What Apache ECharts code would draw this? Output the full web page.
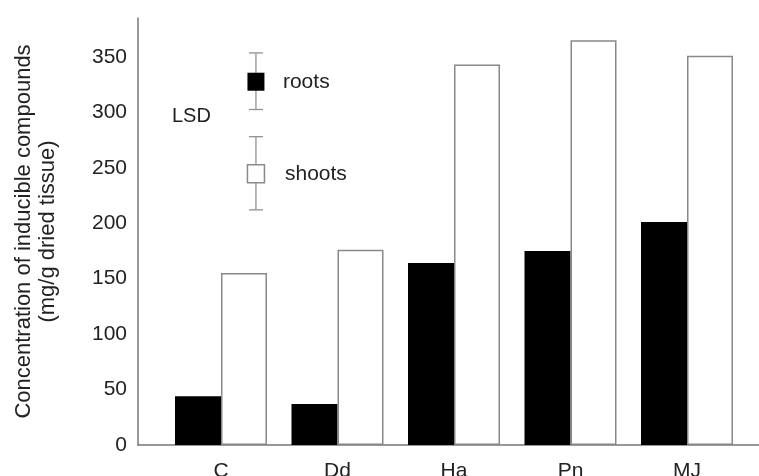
<!DOCTYPE html>
<html>
<head>
<meta charset="utf-8">
<script src="https://cdn.jsdelivr.net/npm/echarts@6/dist/echarts.min.js"></script>
<style>
html,body{margin:0;padding:0;background:#fff;}
#chart{width:759px;height:476px;}
</style>
</head>
<body>
<div id="chart"></div>
<script>
// ---- data ----
const categories = ['C', 'Dd', 'Ha', 'Pn', 'MJ'];
const rootsValues = [44, 37, 164, 175, 201];
const shootsValues = [155, 176, 343, 365, 351];
const yTickValues = [0, 50, 100, 150, 200, 250, 300, 350];
const lsdNames = ['roots', 'shoots'];
const lsdValues = [51, 66];

// ---- layout (not data) ----
const FONT = 'Liberation Sans, Arial, sans-serif';
const lsdX = 1.30;
const lsdCenters = [328, 245];

const chart = echarts.init(document.getElementById('chart'), null, {renderer: 'canvas'});

const option = {
  backgroundColor: '#ffffff',
  animation: false,
  grid: {left: 138, right: 0, top: 18, bottom: 31, containLabel: false, outerBoundsMode: 'none'},
  xAxis: {
    type: 'value',
    min: 0.2876,
    max: 5.618,
    splitLine: {show: false},
    axisTick: {show: false},
    axisLine: {show: true, lineStyle: {color: '#777', width: 1.5}},
    axisLabel: {
      customValues: categories.map((c, i) => i + 1),
      formatter: v => categories[Math.round(v) - 1] || '',
      fontFamily: FONT, fontSize: 21, color: '#222', margin: 16
    }
  },
  yAxis: {
    type: 'value',
    min: 0, max: 385, interval: 50,
    splitLine: {show: false},
    axisTick: {show: false},
    axisLine: {show: true, lineStyle: {color: '#777', width: 1.5}},
    axisLabel: {
      customValues: yTickValues,
      fontFamily: FONT, fontSize: 21, color: '#222', margin: 11
    },
    name: 'Concentration of inducible compounds\n(mg/g dried tissue)',
    nameLocation: 'middle',
    nameRotate: 90,
    nameGap: 78,
    nameTextStyle: {fontFamily: FONT, fontSize: 22, lineHeight: 24, color: '#222'}
  },
  graphic: [{
    type: 'text', left: 172, top: 106,
    style: {text: 'LSD', fontFamily: FONT, fontSize: 20, fill: '#222'}
  }],
  series: [
    {
      name: 'roots', type: 'bar', barWidth: 46, barGap: '0%',
      itemStyle: {color: '#000000'},
      data: rootsValues.map((v, i) => [i + 1, v])
    },
    {
      name: 'shoots', type: 'bar', barWidth: 46, barGap: '0%',
      itemStyle: {color: '#ffffff', borderColor: '#888', borderWidth: 1.5},
      data: shootsValues.map((v, i) => [i + 1, v])
    },
    {
      type: 'custom', silent: true, z: 5,
      data: lsdValues.map((v, i) => [lsdX, lsdCenters[i], v, i]),
      renderItem: function (params, api) {
        const x = api.value(0), yc = api.value(1), len = api.value(2), idx = api.value(3);
        const top = api.coord([x, yc + len / 2]);
        const bot = api.coord([x, yc - len / 2]);
        const c = api.coord([x, yc]);
        const ls = {stroke: '#8a8a8a', lineWidth: 1.2};
        const cap = 7;
        return {
          type: 'group',
          children: [
            {type: 'line', shape: {x1: c[0], y1: top[1], x2: c[0], y2: bot[1]}, style: ls},
            {type: 'line', shape: {x1: c[0] - cap, y1: top[1], x2: c[0] + cap, y2: top[1]}, style: ls},
            {type: 'line', shape: {x1: c[0] - cap, y1: bot[1], x2: c[0] + cap, y2: bot[1]}, style: ls},
            {type: 'rect', shape: {x: c[0] - 8.5, y: c[1] - 8.5, width: 17, height: 18},
              style: idx === 0 ? {fill: '#000'} : {fill: '#fff', stroke: '#8a8a8a', lineWidth: 1.5}},
            {type: 'text', style: {text: lsdNames[idx], x: c[0] + 27 + idx * 2, y: c[1] + 1,
              verticalAlign: 'middle', fontFamily: FONT, fontSize: 21, fill: '#222'}}
          ]
        };
      }
    }
  ]
};
chart.setOption(option);
</script>
</body>
</html>
